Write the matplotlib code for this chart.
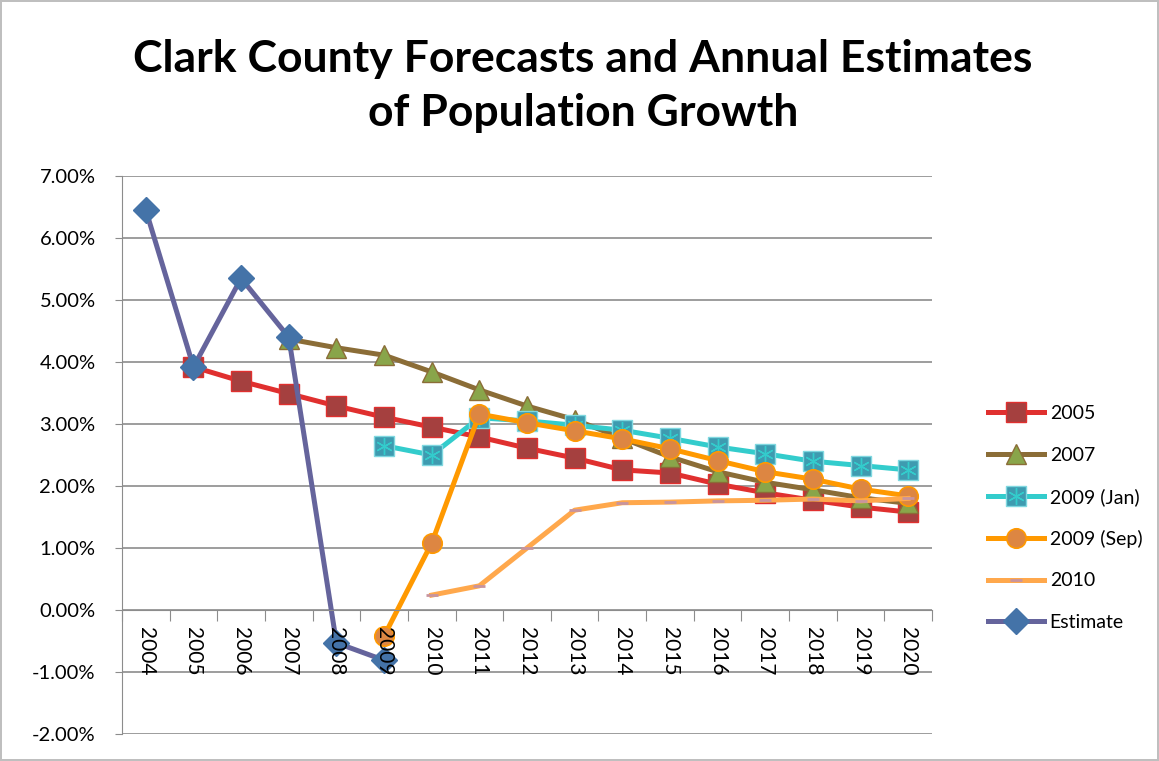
import matplotlib.pyplot as plt
import numpy as np
from matplotlib.legend_handler import HandlerTuple

years = ['2004', '2005', '2006', '2007', '2008', '2009', '2010', '2011', '2012',
         '2013', '2014', '2015', '2016', '2017', '2018', '2019', '2020']
x = np.arange(len(years))
nan = np.nan

# growth rates in percent, one list per forecast
f2005 = [nan, 3.92, 3.69, 3.49, 3.29, 3.11, 2.95, 2.79, 2.61, 2.45, 2.26, 2.21,
         2.03, 1.89, 1.77, 1.66, 1.58]
f2007 = [nan, nan, nan, 4.37, 4.23, 4.11, 3.84, 3.55, 3.29, 3.07, 2.77, 2.47,
         2.23, 2.06, 1.94, 1.81, 1.72]
f2009_jan = [nan, nan, nan, nan, nan, 2.65, 2.50, 3.10, 3.05, 2.98, 2.90, 2.77,
             2.63, 2.52, 2.40, 2.33, 2.26]
f2009_sep = [nan, nan, nan, nan, nan, -0.42, 1.08, 3.16, 3.02, 2.89, 2.76, 2.60,
             2.41, 2.23, 2.11, 1.95, 1.84]
f2010 = [nan, nan, nan, nan, nan, nan, 0.24, 0.39, 1.00, 1.61, 1.73, 1.74,
         1.76, 1.77, 1.79, 1.76, 1.80]
estimate = [6.45, 3.92, 5.35, 4.40, -0.53, -0.81, nan, nan, nan, nan, nan, nan,
            nan, nan, nan, nan, nan]

plt.rcParams['font.family'] = ['Lato', 'DejaVu Sans']

fig = plt.figure(figsize=(11.59, 7.61), dpi=100)
fig.patch.set_edgecolor('#BFBFBF')
fig.patch.set_linewidth(1.5)
ax = fig.add_axes([122 / 1159, 1 - 734 / 761, (932 - 122) / 1159, (734 - 176) / 761])

h1, = ax.plot(x, f2005, color='#E0302F', lw=3.6, marker='s', ms=14,
              mfc='#A5403F', mec='#E0302F', mew=1)
h2, = ax.plot(x, f2007, color='#8B6D37', lw=3.6, marker='^', ms=14,
              mfc='#89A54A', mec='#8B6D37', mew=1)
h3, = ax.plot(x, f2009_jan, color='#33CCCC', lw=3.6, marker='s', ms=14,
              mfc='#3E9BB0', mec='#7FD8E0', mew=1)
h3b, = ax.plot(x, f2009_jan, ls='none', marker=(6, 2, 0), ms=12,
               mec='#33CCCC', mew=1)
h4, = ax.plot(x, f2009_sep, color='#FF9900', lw=3.6, marker='o', ms=14,
              mfc='#DD8642', mec='#FF9900', mew=1.2)
h5, = ax.plot(x, f2010, color='#FFA84C', lw=3.6, marker='_', ms=8,
              mec='#C8949E', mew=2)
h6, = ax.plot(x, estimate, color='#65649C', lw=3.6, marker='D', ms=13,
              mfc='#4473A8', mec='#4473A8')

ax.set_xlim(-0.5, len(years) - 0.5)
ax.set_ylim(-2, 7)
ax.set_yticks(np.arange(-2, 8, 1))
ax.set_yticklabels(['%.2f%%' % v for v in np.arange(-2, 8, 1)], fontsize=14.5)
ax.yaxis.grid(True, color='#8C8C8C', lw=1.2)
ax.set_axisbelow(True)

# category axis crosses at 0%
ax.spines['bottom'].set_position(('data', 0))
ax.spines['bottom'].set_color('#8C8C8C')
ax.spines['left'].set_color('#8C8C8C')
ax.spines['top'].set_visible(False)
ax.spines['right'].set_visible(False)
ax.set_xticks(np.arange(-0.5, len(years), 1))
ax.set_xticklabels([])
ax.tick_params(axis='x', length=8, color='#8C8C8C', direction='out')
ax.tick_params(axis='y', length=5, color='#8C8C8C', pad=14)
for i, yr in enumerate(years):
    ax.text(i, -0.27, yr, rotation=270, ha='center', va='top', fontsize=15)

fig.text(0.503, 1 - 86 / 761, 'Clark County Forecasts and Annual Estimates\nof Population Growth',
         ha='center', va='center', fontsize=32, fontweight='bold', linespacing=1.42)

fig.legend([h1, h2, (h3, h3b), h4, h5, h6],
           ['2005', '2007', '2009 (Jan)', '2009 (Sep)', '2010', 'Estimate'],
           handler_map={tuple: HandlerTuple(ndivide=1, pad=0)},
           loc='center left', bbox_to_anchor=(970 / 1159, 1 - 518 / 761),
           frameon=False, fontsize=14, handlelength=2.9, labelspacing=1.25,
           handletextpad=0.3)

fig.savefig('out.png', dpi=100)
